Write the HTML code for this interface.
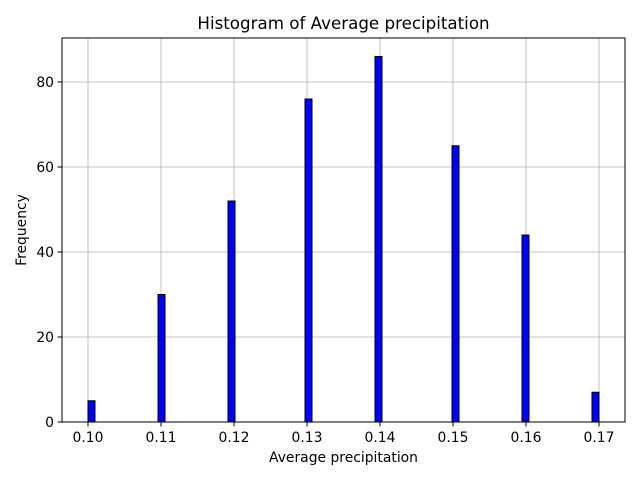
<!DOCTYPE html>
<html><head><meta charset="utf-8"><style>
body{margin:0;background:#fff;font-family:"DejaVu Sans","Liberation Sans",sans-serif}
svg text{font-family:"DejaVu Sans","Liberation Sans",sans-serif}
</style></head><body>
<svg id="c" width="640" height="480"></svg>
<script>
const categories=[0.10,0.11,0.12,0.13,0.14,0.15,0.16,0.17];
const counts=[5,30,52,76,86,65,44,7];
const xTicks=["0.10","0.11","0.12","0.13","0.14","0.15","0.16","0.17"];
const yTicks=[0,20,40,60,80];
const binCount=73;
const L=62,R=625,T=38,B=422;
const x=v=>88+(v-0.10)*7300;
const y=v=>422-v*4.25;
const s=document.getElementById('c');const NS='http://www.w3.org/2000/svg';
function mk(t,a,txt){const e=document.createElementNS(NS,t);for(const k in a)e.setAttribute(k,a[k]);if(txt!==undefined)e.textContent=txt;s.appendChild(e);return e;}
const vmin=Math.min(...categories),vmax=Math.max(...categories);
const binW=(vmax-vmin)/binCount;
xTicks.forEach((t,i)=>{const X=x(categories[i]);
const g=mk('line',{x1:X,x2:X,y1:T,y2:B,stroke:'#b0b0b0','stroke-width':0.8});
});
yTicks.forEach(t=>{const Y=y(t);
const g=mk('line',{x1:L,x2:R,y1:Y,y2:Y,stroke:'#b0b0b0','stroke-width':0.8});
});
categories.forEach((v,i)=>{
let idx=Math.floor((v-vmin)/binW+1e-9);if(idx>binCount-1)idx=binCount-1;
const x0=x(vmin+idx*binW),x1=x(vmin+(idx+1)*binW);
const e=mk('rect',{x:x0,y:y(counts[i]),width:x1-x0,height:B-y(counts[i]),fill:'#0000ff',stroke:'#000','stroke-width':1});

});
xTicks.forEach((t,i)=>{const X=x(categories[i]);
mk('line',{x1:X,x2:X,y1:B,y2:B+4.5,stroke:'#000'});
const e=mk('text',{x:X,y:442,'text-anchor':'middle','font-size':13.9},t);
});
yTicks.forEach(t=>{const Y=y(t);
mk('line',{x1:L-4.5,x2:L,y1:Y,y2:Y,stroke:'#000'});
const e=mk('text',{x:L-8,y:Y+5,'text-anchor':'end','font-size':13.9},t);
});
const f=mk('rect',{x:L,y:T,width:R-L,height:B-T,fill:'none',stroke:'#000','stroke-width':1});

let e=mk('text',{x:343.5,y:29,'text-anchor':'middle','font-size':16.7},'Histogram of Average precipitation');

e=mk('text',{x:343.5,y:462,'text-anchor':'middle','font-size':13.9},'Average precipitation');

e=mk('text',{x:26,y:230,'text-anchor':'middle','font-size':13.9,transform:'rotate(-90 26 230)'},'Frequency');

</script>
</body></html>
